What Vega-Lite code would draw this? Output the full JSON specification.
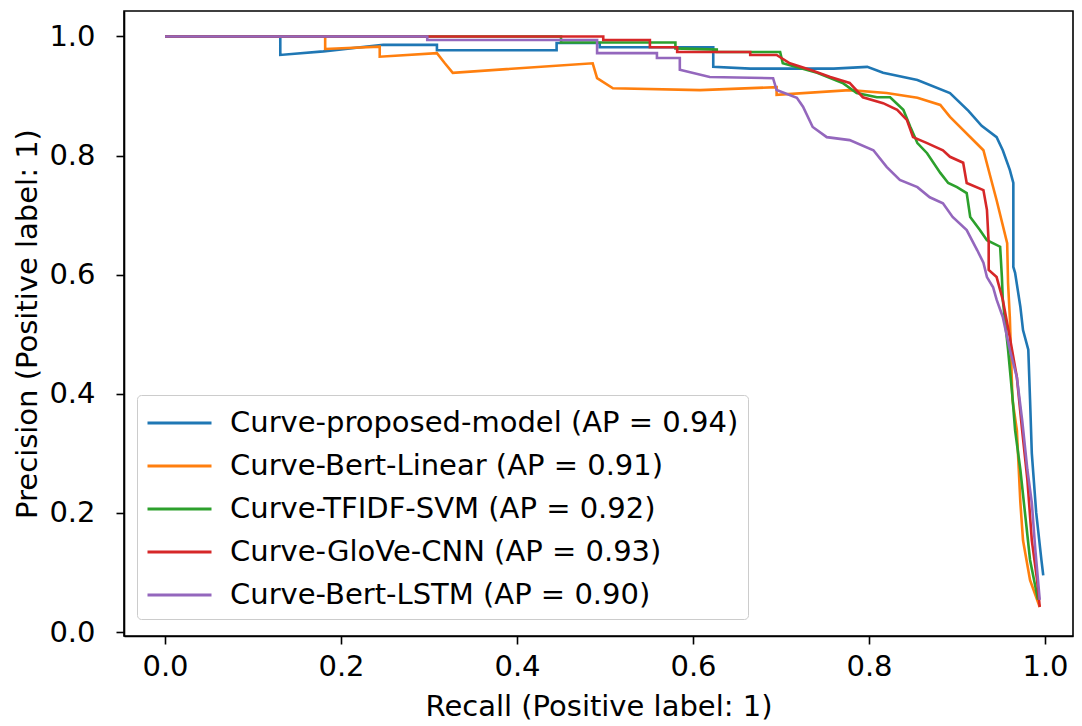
{
  "$schema": "https://vega.github.io/schema/vega-lite/v6.json",
  "width": 949,
  "height": 625,
  "autosize": {"type": "none"},
  "padding": {"left": 124, "top": 11, "right": 9, "bottom": 90},
  "background": "white",
  "datasets": {
    "pr": [
      {"model": "Curve-proposed-model (AP = 0.94)", "recall": 0, "precision": 1},
      {"model": "Curve-proposed-model (AP = 0.94)", "recall": 0.131, "precision": 1},
      {"model": "Curve-proposed-model (AP = 0.94)", "recall": 0.131, "precision": 0.969},
      {"model": "Curve-proposed-model (AP = 0.94)", "recall": 0.18, "precision": 0.975},
      {"model": "Curve-proposed-model (AP = 0.94)", "recall": 0.248, "precision": 0.986},
      {"model": "Curve-proposed-model (AP = 0.94)", "recall": 0.309, "precision": 0.986},
      {"model": "Curve-proposed-model (AP = 0.94)", "recall": 0.309, "precision": 0.977},
      {"model": "Curve-proposed-model (AP = 0.94)", "recall": 0.445, "precision": 0.977},
      {"model": "Curve-proposed-model (AP = 0.94)", "recall": 0.445, "precision": 0.989},
      {"model": "Curve-proposed-model (AP = 0.94)", "recall": 0.494, "precision": 0.989},
      {"model": "Curve-proposed-model (AP = 0.94)", "recall": 0.494, "precision": 0.982},
      {"model": "Curve-proposed-model (AP = 0.94)", "recall": 0.623, "precision": 0.982},
      {"model": "Curve-proposed-model (AP = 0.94)", "recall": 0.623, "precision": 0.949},
      {"model": "Curve-proposed-model (AP = 0.94)", "recall": 0.665, "precision": 0.946},
      {"model": "Curve-proposed-model (AP = 0.94)", "recall": 0.76, "precision": 0.946},
      {"model": "Curve-proposed-model (AP = 0.94)", "recall": 0.798, "precision": 0.949},
      {"model": "Curve-proposed-model (AP = 0.94)", "recall": 0.816, "precision": 0.939},
      {"model": "Curve-proposed-model (AP = 0.94)", "recall": 0.855, "precision": 0.927},
      {"model": "Curve-proposed-model (AP = 0.94)", "recall": 0.892, "precision": 0.905},
      {"model": "Curve-proposed-model (AP = 0.94)", "recall": 0.913, "precision": 0.875},
      {"model": "Curve-proposed-model (AP = 0.94)", "recall": 0.928, "precision": 0.85},
      {"model": "Curve-proposed-model (AP = 0.94)", "recall": 0.945, "precision": 0.831},
      {"model": "Curve-proposed-model (AP = 0.94)", "recall": 0.952, "precision": 0.809},
      {"model": "Curve-proposed-model (AP = 0.94)", "recall": 0.96, "precision": 0.776},
      {"model": "Curve-proposed-model (AP = 0.94)", "recall": 0.964, "precision": 0.754},
      {"model": "Curve-proposed-model (AP = 0.94)", "recall": 0.964, "precision": 0.613},
      {"model": "Curve-proposed-model (AP = 0.94)", "recall": 0.966, "precision": 0.603},
      {"model": "Curve-proposed-model (AP = 0.94)", "recall": 0.972, "precision": 0.546},
      {"model": "Curve-proposed-model (AP = 0.94)", "recall": 0.975, "precision": 0.507},
      {"model": "Curve-proposed-model (AP = 0.94)", "recall": 0.981, "precision": 0.474},
      {"model": "Curve-proposed-model (AP = 0.94)", "recall": 0.983, "precision": 0.39},
      {"model": "Curve-proposed-model (AP = 0.94)", "recall": 0.985, "precision": 0.3},
      {"model": "Curve-proposed-model (AP = 0.94)", "recall": 0.99, "precision": 0.2},
      {"model": "Curve-proposed-model (AP = 0.94)", "recall": 0.996, "precision": 0.12},
      {"model": "Curve-proposed-model (AP = 0.94)", "recall": 0.998, "precision": 0.095},

      {"model": "Curve-Bert-Linear (AP = 0.91)", "recall": 0, "precision": 1},
      {"model": "Curve-Bert-Linear (AP = 0.91)", "recall": 0.182, "precision": 1},
      {"model": "Curve-Bert-Linear (AP = 0.91)", "recall": 0.182, "precision": 0.979},
      {"model": "Curve-Bert-Linear (AP = 0.91)", "recall": 0.244, "precision": 0.983},
      {"model": "Curve-Bert-Linear (AP = 0.91)", "recall": 0.244, "precision": 0.966},
      {"model": "Curve-Bert-Linear (AP = 0.91)", "recall": 0.309, "precision": 0.972},
      {"model": "Curve-Bert-Linear (AP = 0.91)", "recall": 0.318, "precision": 0.955},
      {"model": "Curve-Bert-Linear (AP = 0.91)", "recall": 0.327, "precision": 0.939},
      {"model": "Curve-Bert-Linear (AP = 0.91)", "recall": 0.486, "precision": 0.955},
      {"model": "Curve-Bert-Linear (AP = 0.91)", "recall": 0.491, "precision": 0.93},
      {"model": "Curve-Bert-Linear (AP = 0.91)", "recall": 0.509, "precision": 0.913},
      {"model": "Curve-Bert-Linear (AP = 0.91)", "recall": 0.608, "precision": 0.91},
      {"model": "Curve-Bert-Linear (AP = 0.91)", "recall": 0.695, "precision": 0.915},
      {"model": "Curve-Bert-Linear (AP = 0.91)", "recall": 0.695, "precision": 0.902},
      {"model": "Curve-Bert-Linear (AP = 0.91)", "recall": 0.778, "precision": 0.91},
      {"model": "Curve-Bert-Linear (AP = 0.91)", "recall": 0.82, "precision": 0.905},
      {"model": "Curve-Bert-Linear (AP = 0.91)", "recall": 0.855, "precision": 0.897},
      {"model": "Curve-Bert-Linear (AP = 0.91)", "recall": 0.881, "precision": 0.885},
      {"model": "Curve-Bert-Linear (AP = 0.91)", "recall": 0.892, "precision": 0.865},
      {"model": "Curve-Bert-Linear (AP = 0.91)", "recall": 0.93, "precision": 0.809},
      {"model": "Curve-Bert-Linear (AP = 0.91)", "recall": 0.938, "precision": 0.764},
      {"model": "Curve-Bert-Linear (AP = 0.91)", "recall": 0.945, "precision": 0.725},
      {"model": "Curve-Bert-Linear (AP = 0.91)", "recall": 0.957, "precision": 0.653},
      {"model": "Curve-Bert-Linear (AP = 0.91)", "recall": 0.958, "precision": 0.586},
      {"model": "Curve-Bert-Linear (AP = 0.91)", "recall": 0.96, "precision": 0.529},
      {"model": "Curve-Bert-Linear (AP = 0.91)", "recall": 0.963, "precision": 0.39},
      {"model": "Curve-Bert-Linear (AP = 0.91)", "recall": 0.968, "precision": 0.339},
      {"model": "Curve-Bert-Linear (AP = 0.91)", "recall": 0.972, "precision": 0.217},
      {"model": "Curve-Bert-Linear (AP = 0.91)", "recall": 0.975, "precision": 0.154},
      {"model": "Curve-Bert-Linear (AP = 0.91)", "recall": 0.983, "precision": 0.087},
      {"model": "Curve-Bert-Linear (AP = 0.91)", "recall": 0.994, "precision": 0.042},

      {"model": "Curve-TFIDF-SVM (AP = 0.92)", "recall": 0, "precision": 1},
      {"model": "Curve-TFIDF-SVM (AP = 0.92)", "recall": 0.45, "precision": 1},
      {"model": "Curve-TFIDF-SVM (AP = 0.92)", "recall": 0.45, "precision": 0.99},
      {"model": "Curve-TFIDF-SVM (AP = 0.92)", "recall": 0.58, "precision": 0.99},
      {"model": "Curve-TFIDF-SVM (AP = 0.92)", "recall": 0.58, "precision": 0.98},
      {"model": "Curve-TFIDF-SVM (AP = 0.92)", "recall": 0.627, "precision": 0.978},
      {"model": "Curve-TFIDF-SVM (AP = 0.92)", "recall": 0.627, "precision": 0.974},
      {"model": "Curve-TFIDF-SVM (AP = 0.92)", "recall": 0.699, "precision": 0.974},
      {"model": "Curve-TFIDF-SVM (AP = 0.92)", "recall": 0.702, "precision": 0.955},
      {"model": "Curve-TFIDF-SVM (AP = 0.92)", "recall": 0.741, "precision": 0.939},
      {"model": "Curve-TFIDF-SVM (AP = 0.92)", "recall": 0.77, "precision": 0.922},
      {"model": "Curve-TFIDF-SVM (AP = 0.92)", "recall": 0.786, "precision": 0.905},
      {"model": "Curve-TFIDF-SVM (AP = 0.92)", "recall": 0.809, "precision": 0.898},
      {"model": "Curve-TFIDF-SVM (AP = 0.92)", "recall": 0.824, "precision": 0.898},
      {"model": "Curve-TFIDF-SVM (AP = 0.92)", "recall": 0.839, "precision": 0.877},
      {"model": "Curve-TFIDF-SVM (AP = 0.92)", "recall": 0.847, "precision": 0.848},
      {"model": "Curve-TFIDF-SVM (AP = 0.92)", "recall": 0.855, "precision": 0.821},
      {"model": "Curve-TFIDF-SVM (AP = 0.92)", "recall": 0.866, "precision": 0.804},
      {"model": "Curve-TFIDF-SVM (AP = 0.92)", "recall": 0.881, "precision": 0.771},
      {"model": "Curve-TFIDF-SVM (AP = 0.92)", "recall": 0.89, "precision": 0.754},
      {"model": "Curve-TFIDF-SVM (AP = 0.92)", "recall": 0.9, "precision": 0.747},
      {"model": "Curve-TFIDF-SVM (AP = 0.92)", "recall": 0.911, "precision": 0.737},
      {"model": "Curve-TFIDF-SVM (AP = 0.92)", "recall": 0.915, "precision": 0.697},
      {"model": "Curve-TFIDF-SVM (AP = 0.92)", "recall": 0.926, "precision": 0.675},
      {"model": "Curve-TFIDF-SVM (AP = 0.92)", "recall": 0.934, "precision": 0.658},
      {"model": "Curve-TFIDF-SVM (AP = 0.92)", "recall": 0.949, "precision": 0.647},
      {"model": "Curve-TFIDF-SVM (AP = 0.92)", "recall": 0.951, "precision": 0.596},
      {"model": "Curve-TFIDF-SVM (AP = 0.92)", "recall": 0.952, "precision": 0.558},
      {"model": "Curve-TFIDF-SVM (AP = 0.92)", "recall": 0.958, "precision": 0.474},
      {"model": "Curve-TFIDF-SVM (AP = 0.92)", "recall": 0.963, "precision": 0.395},
      {"model": "Curve-TFIDF-SVM (AP = 0.92)", "recall": 0.966, "precision": 0.339},
      {"model": "Curve-TFIDF-SVM (AP = 0.92)", "recall": 0.972, "precision": 0.272},
      {"model": "Curve-TFIDF-SVM (AP = 0.92)", "recall": 0.983, "precision": 0.121},
      {"model": "Curve-TFIDF-SVM (AP = 0.92)", "recall": 0.992, "precision": 0.054},

      {"model": "Curve-GloVe-CNN (AP = 0.93)", "recall": 0, "precision": 1},
      {"model": "Curve-GloVe-CNN (AP = 0.93)", "recall": 0.498, "precision": 1},
      {"model": "Curve-GloVe-CNN (AP = 0.93)", "recall": 0.498, "precision": 0.994},
      {"model": "Curve-GloVe-CNN (AP = 0.93)", "recall": 0.551, "precision": 0.994},
      {"model": "Curve-GloVe-CNN (AP = 0.93)", "recall": 0.551, "precision": 0.982},
      {"model": "Curve-GloVe-CNN (AP = 0.93)", "recall": 0.582, "precision": 0.982},
      {"model": "Curve-GloVe-CNN (AP = 0.93)", "recall": 0.582, "precision": 0.974},
      {"model": "Curve-GloVe-CNN (AP = 0.93)", "recall": 0.665, "precision": 0.974},
      {"model": "Curve-GloVe-CNN (AP = 0.93)", "recall": 0.665, "precision": 0.969},
      {"model": "Curve-GloVe-CNN (AP = 0.93)", "recall": 0.695, "precision": 0.969},
      {"model": "Curve-GloVe-CNN (AP = 0.93)", "recall": 0.71, "precision": 0.955},
      {"model": "Curve-GloVe-CNN (AP = 0.93)", "recall": 0.733, "precision": 0.944},
      {"model": "Curve-GloVe-CNN (AP = 0.93)", "recall": 0.756, "precision": 0.932},
      {"model": "Curve-GloVe-CNN (AP = 0.93)", "recall": 0.778, "precision": 0.922},
      {"model": "Curve-GloVe-CNN (AP = 0.93)", "recall": 0.793, "precision": 0.898},
      {"model": "Curve-GloVe-CNN (AP = 0.93)", "recall": 0.816, "precision": 0.888},
      {"model": "Curve-GloVe-CNN (AP = 0.93)", "recall": 0.832, "precision": 0.877},
      {"model": "Curve-GloVe-CNN (AP = 0.93)", "recall": 0.843, "precision": 0.86},
      {"model": "Curve-GloVe-CNN (AP = 0.93)", "recall": 0.85, "precision": 0.831},
      {"model": "Curve-GloVe-CNN (AP = 0.93)", "recall": 0.866, "precision": 0.821},
      {"model": "Curve-GloVe-CNN (AP = 0.93)", "recall": 0.884, "precision": 0.809},
      {"model": "Curve-GloVe-CNN (AP = 0.93)", "recall": 0.892, "precision": 0.798},
      {"model": "Curve-GloVe-CNN (AP = 0.93)", "recall": 0.907, "precision": 0.788},
      {"model": "Curve-GloVe-CNN (AP = 0.93)", "recall": 0.911, "precision": 0.754},
      {"model": "Curve-GloVe-CNN (AP = 0.93)", "recall": 0.93, "precision": 0.742},
      {"model": "Curve-GloVe-CNN (AP = 0.93)", "recall": 0.934, "precision": 0.709},
      {"model": "Curve-GloVe-CNN (AP = 0.93)", "recall": 0.936, "precision": 0.653},
      {"model": "Curve-GloVe-CNN (AP = 0.93)", "recall": 0.936, "precision": 0.608},
      {"model": "Curve-GloVe-CNN (AP = 0.93)", "recall": 0.945, "precision": 0.596},
      {"model": "Curve-GloVe-CNN (AP = 0.93)", "recall": 0.952, "precision": 0.558},
      {"model": "Curve-GloVe-CNN (AP = 0.93)", "recall": 0.96, "precision": 0.495},
      {"model": "Curve-GloVe-CNN (AP = 0.93)", "recall": 0.968, "precision": 0.428},
      {"model": "Curve-GloVe-CNN (AP = 0.93)", "recall": 0.974, "precision": 0.339},
      {"model": "Curve-GloVe-CNN (AP = 0.93)", "recall": 0.98, "precision": 0.255},
      {"model": "Curve-GloVe-CNN (AP = 0.93)", "recall": 0.985, "precision": 0.154},
      {"model": "Curve-GloVe-CNN (AP = 0.93)", "recall": 0.991, "precision": 0.087},
      {"model": "Curve-GloVe-CNN (AP = 0.93)", "recall": 0.994, "precision": 0.042},

      {"model": "Curve-Bert-LSTM (AP = 0.90)", "recall": 0, "precision": 1},
      {"model": "Curve-Bert-LSTM (AP = 0.90)", "recall": 0.298, "precision": 1},
      {"model": "Curve-Bert-LSTM (AP = 0.90)", "recall": 0.298, "precision": 0.994},
      {"model": "Curve-Bert-LSTM (AP = 0.90)", "recall": 0.491, "precision": 0.994},
      {"model": "Curve-Bert-LSTM (AP = 0.90)", "recall": 0.491, "precision": 0.972},
      {"model": "Curve-Bert-LSTM (AP = 0.90)", "recall": 0.559, "precision": 0.972},
      {"model": "Curve-Bert-LSTM (AP = 0.90)", "recall": 0.559, "precision": 0.964},
      {"model": "Curve-Bert-LSTM (AP = 0.90)", "recall": 0.585, "precision": 0.964},
      {"model": "Curve-Bert-LSTM (AP = 0.90)", "recall": 0.585, "precision": 0.944},
      {"model": "Curve-Bert-LSTM (AP = 0.90)", "recall": 0.619, "precision": 0.932},
      {"model": "Curve-Bert-LSTM (AP = 0.90)", "recall": 0.691, "precision": 0.93},
      {"model": "Curve-Bert-LSTM (AP = 0.90)", "recall": 0.695, "precision": 0.91},
      {"model": "Curve-Bert-LSTM (AP = 0.90)", "recall": 0.718, "precision": 0.897},
      {"model": "Curve-Bert-LSTM (AP = 0.90)", "recall": 0.725, "precision": 0.882},
      {"model": "Curve-Bert-LSTM (AP = 0.90)", "recall": 0.736, "precision": 0.848},
      {"model": "Curve-Bert-LSTM (AP = 0.90)", "recall": 0.752, "precision": 0.831},
      {"model": "Curve-Bert-LSTM (AP = 0.90)", "recall": 0.778, "precision": 0.826},
      {"model": "Curve-Bert-LSTM (AP = 0.90)", "recall": 0.805, "precision": 0.809},
      {"model": "Curve-Bert-LSTM (AP = 0.90)", "recall": 0.82, "precision": 0.781},
      {"model": "Curve-Bert-LSTM (AP = 0.90)", "recall": 0.835, "precision": 0.759},
      {"model": "Curve-Bert-LSTM (AP = 0.90)", "recall": 0.855, "precision": 0.747},
      {"model": "Curve-Bert-LSTM (AP = 0.90)", "recall": 0.869, "precision": 0.73},
      {"model": "Curve-Bert-LSTM (AP = 0.90)", "recall": 0.884, "precision": 0.72},
      {"model": "Curve-Bert-LSTM (AP = 0.90)", "recall": 0.895, "precision": 0.697},
      {"model": "Curve-Bert-LSTM (AP = 0.90)", "recall": 0.911, "precision": 0.675},
      {"model": "Curve-Bert-LSTM (AP = 0.90)", "recall": 0.923, "precision": 0.641},
      {"model": "Curve-Bert-LSTM (AP = 0.90)", "recall": 0.93, "precision": 0.62},
      {"model": "Curve-Bert-LSTM (AP = 0.90)", "recall": 0.934, "precision": 0.596},
      {"model": "Curve-Bert-LSTM (AP = 0.90)", "recall": 0.941, "precision": 0.579},
      {"model": "Curve-Bert-LSTM (AP = 0.90)", "recall": 0.945, "precision": 0.558},
      {"model": "Curve-Bert-LSTM (AP = 0.90)", "recall": 0.952, "precision": 0.529},
      {"model": "Curve-Bert-LSTM (AP = 0.90)", "recall": 0.96, "precision": 0.474},
      {"model": "Curve-Bert-LSTM (AP = 0.90)", "recall": 0.968, "precision": 0.428},
      {"model": "Curve-Bert-LSTM (AP = 0.90)", "recall": 0.974, "precision": 0.356},
      {"model": "Curve-Bert-LSTM (AP = 0.90)", "recall": 0.98, "precision": 0.272},
      {"model": "Curve-Bert-LSTM (AP = 0.90)", "recall": 0.985, "precision": 0.217},
      {"model": "Curve-Bert-LSTM (AP = 0.90)", "recall": 0.989, "precision": 0.138},
      {"model": "Curve-Bert-LSTM (AP = 0.90)", "recall": 0.994, "precision": 0.054}
    ]
  },
  "data": {"name": "pr"},
  "mark": {"type": "line", "strokeWidth": 2.6, "clip": true},
  "encoding": {
    "x": {
      "field": "recall", "type": "quantitative",
      "scale": {"domain": [-0.0466, 1.0318], "nice": false, "zero": false},
      "axis": {"title": "Recall (Positive label: 1)", "values": [0, 0.2, 0.4, 0.6, 0.8, 1.0], "format": ".1f", "labelPadding": 8, "titlePadding": 11}
    },
    "y": {
      "field": "precision", "type": "quantitative",
      "scale": {"domain": [-0.0067, 1.0428], "nice": false, "zero": false},
      "axis": {"title": "Precision (Positive label: 1)", "values": [0, 0.2, 0.4, 0.6, 0.8, 1.0], "format": ".1f", "labelPadding": 21, "titlePadding": 6}
    },
    "color": {
      "field": "model", "type": "nominal",
      "scale": {
        "domain": ["Curve-proposed-model (AP = 0.94)", "Curve-Bert-Linear (AP = 0.91)", "Curve-TFIDF-SVM (AP = 0.92)", "Curve-GloVe-CNN (AP = 0.93)", "Curve-Bert-LSTM (AP = 0.90)"],
        "range": ["#1f77b4", "#ff7f0e", "#2ca02c", "#d62728", "#9467bd"]
      },
      "legend": {
        "title": null, "orient": "none", "legendX": 13, "legendY": 384,
        "symbolType": "stroke", "symbolSize": 4096, "symbolStrokeWidth": 3,
        "labelFontSize": 29, "labelOffset": 17, "labelLimit": 1000, "labelColor": "black",
        "rowPadding": 9, "padding": 9,
        "fillColor": "rgba(255,255,255,0.8)", "strokeColor": "#cccccc", "cornerRadius": 4,
        "encode": {
          "symbols": {"update": {"y": {"value": 19}}},
          "labels": {"update": {"y": {"value": 19}}}
        }
      }
    },
    "order": {"value": null}
  },
  "config": {
    "font": "DejaVu Sans",
    "view": {"stroke": "black", "strokeWidth": 1.6},
    "axis": {
      "grid": false, "domainColor": "black", "tickColor": "black", "labelColor": "black", "titleColor": "black",
      "labelFontSize": 29, "titleFontSize": 29, "titleFontWeight": "normal",
      "tickSize": 8, "domainWidth": 1.6, "tickWidth": 1.6
    }
  }
}
